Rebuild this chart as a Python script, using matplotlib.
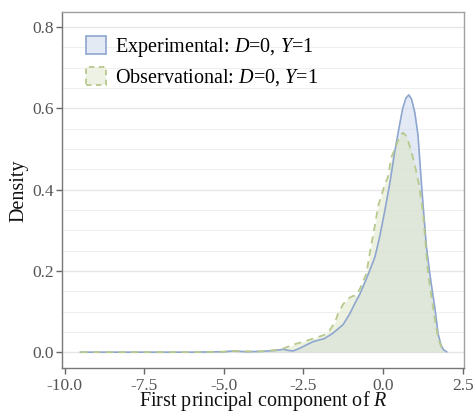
import matplotlib
matplotlib.use("Agg")
import matplotlib.pyplot as plt
from matplotlib.patches import Patch

# ---- data ----
exp_x = [-9.5, -6.0, -5.0, -4.7, -4.3, -3.8, -3.4, -3.13, -2.95, -2.82, -2.6, -2.4,
         -2.19, -2.0, -1.85, -1.6, -1.4, -1.25, -1.04, -0.85, -0.73, -0.55, -0.41,
         -0.25, -0.10, 0.05, 0.21, 0.37, 0.50, 0.62, 0.72, 0.81, 0.90, 1.00, 1.10,
         1.21, 1.28, 1.365, 1.47, 1.55, 1.625, 1.73, 1.82, 1.90, 2.0]
exp_y = [0.0, 0.0, 0.001, 0.003, 0.001, 0.002, 0.004, 0.007, 0.004, 0.003, 0.010, 0.018,
         0.026, 0.030, 0.033, 0.045, 0.058, 0.068, 0.095, 0.125, 0.142, 0.175, 0.202,
         0.235, 0.285, 0.345, 0.413, 0.493, 0.550, 0.600, 0.625, 0.633, 0.622, 0.590, 0.534,
         0.413, 0.342, 0.259, 0.194, 0.150, 0.112, 0.046, 0.018, 0.006, 0.001]

obs_x = [-9.5, -6.0, -5.0, -4.7, -4.3, -3.8, -3.4, -3.13, -2.9, -2.71, -2.4, -2.09,
         -1.85, -1.67, -1.5, -1.41, -1.25, -1.09, -0.95, -0.83, -0.70, -0.52, -0.40,
         -0.26, -0.15, 0.06, 0.15, 0.27, 0.40, 0.53, 0.63, 0.75, 0.895, 1.00, 1.13,
         1.26, 1.415, 1.57, 1.65, 1.75, 1.85, 1.96]
obs_y = [0.0, 0.0, 0.001, 0.003, 0.002, 0.002, 0.005, 0.009, 0.016, 0.021, 0.028, 0.036,
         0.042, 0.054, 0.075, 0.095, 0.118, 0.132, 0.138, 0.140, 0.160, 0.194, 0.250,
         0.309, 0.360, 0.413, 0.430, 0.481, 0.505, 0.532, 0.540, 0.530, 0.493, 0.460, 0.413,
         0.342, 0.194, 0.112, 0.070, 0.030, 0.010, 0.002]

x_ticks = [-10.0, -7.5, -5.0, -2.5, 0.0, 2.5]
y_ticks = [0.0, 0.2, 0.4, 0.6, 0.8]

plt.rcParams['font.family'] = ['Liberation Serif', 'DejaVu Serif']
plt.rcParams['mathtext.fontset'] = 'custom'
plt.rcParams['mathtext.it'] = 'Liberation Serif:italic'
plt.rcParams['mathtext.rm'] = 'Liberation Serif'

blue_fill = '#c9d6ec'
blue_line = '#8ea6cf'
green_fill = '#dde6c2'
green_line = '#b8c98e'

fig = plt.figure(figsize=(4.74, 4.13), dpi=100)
ax = fig.add_axes([62 / 474, 45 / 413, 402 / 474, 356 / 413])

# grid
for v in [i * 0.05 for i in range(0, 17)]:
    major = abs(v / 0.2 - round(v / 0.2)) < 1e-6
    ax.axhline(v, color='#e6e6e6' if major else '#efefef',
               lw=1.0 if major else 0.7, zorder=0)

ax.fill_between(exp_x, 0, exp_y, color=blue_fill, alpha=0.5, lw=0, zorder=1)
ax.fill_between(obs_x, 0, obs_y, color=green_fill, alpha=0.5, lw=0, zorder=2)
ax.plot(exp_x, exp_y, color=blue_line, lw=1.2, zorder=3)
ax.plot(obs_x, obs_y, color=green_line, lw=1.3, ls=(0, (4, 3)), zorder=4)

ax.set_xlim(-10.08, 2.545)
ax.set_ylim(-0.039, 0.837)
ax.set_xticks(x_ticks)
ax.set_xticklabels([f"{t:.1f}" for t in x_ticks])
ax.set_yticks(y_ticks)
ax.set_yticklabels([f"{t:.1f}" for t in y_ticks])

for s in ax.spines.values():
    s.set_color('#a0a0a0')
    s.set_linewidth(1.0)
ax.spines['left'].set_color('#777777')
ax.spines['bottom'].set_color('#777777')
ax.tick_params(axis='both', colors='#666666', labelsize=12.5, length=4,
               width=1.0, labelcolor='#555555', pad=2)
ax.tick_params(axis='x', pad=3)

ax.set_xlabel(r"First principal component of $\mathit{R}$", fontsize=14.5,
              color='#111111', va='baseline')
ax.xaxis.set_label_coords(0.502, -0.108)
ax.set_ylabel("Density", fontsize=14.5, color='#111111', va='center')
ax.yaxis.set_label_coords(-0.106, 0.497)

handles = [
    Patch(facecolor='#e4eaf4', edgecolor=blue_line, lw=1.2),
    Patch(facecolor='#eef2e4', edgecolor=green_line, lw=1.3, ls=(0, (3, 2.5))),
]
leg_labels = [
    r"Experimental: $\mathit{D}$=$\mathit{0}$, $\mathit{Y}$=$\mathit{1}$",
    r"Observational: $\mathit{D}$=$\mathit{0}$, $\mathit{Y}$=$\mathit{1}$",
]
ax.legend(handles, leg_labels, loc='upper left', bbox_to_anchor=(0.04, 0.955),
          frameon=False, fontsize=14.5, handlelength=1.0, handleheight=1.0,
          handletextpad=0.45, labelspacing=0.4, borderaxespad=0)

fig.savefig("out.png", dpi=100)
